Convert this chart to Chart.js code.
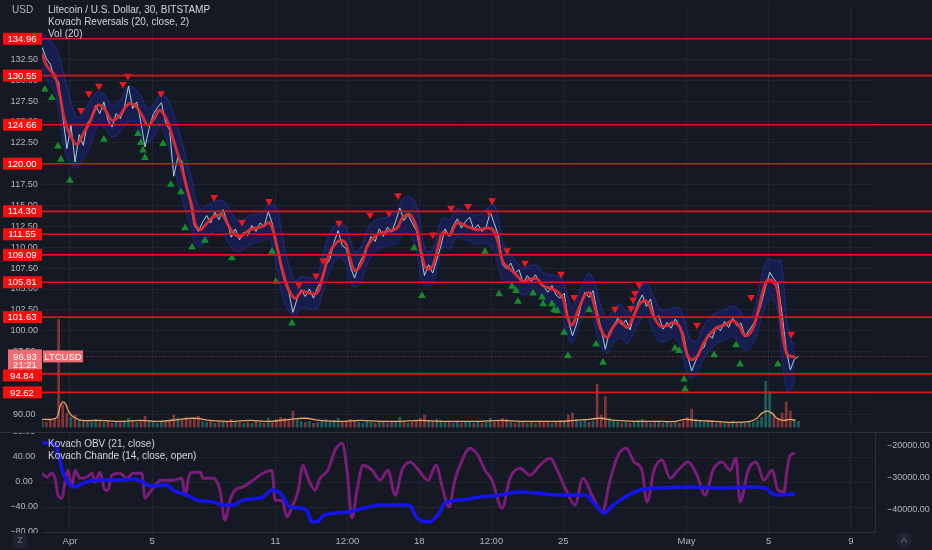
<!DOCTYPE html>
<html>
<head>
<meta charset="utf-8">
<script src="https://cdn.jsdelivr.net/npm/chart.js@4.4.1/dist/chart.umd.min.js"></script>
<style>
  html, body { margin: 0; padding: 0; background: #151924; }
  #wrap { position: relative; width: 932px; height: 550px; overflow: hidden; background: #151924; }
  #main { position: absolute; left: 0; top: 0; }
  #lower { position: absolute; left: 0; top: 432px; }
  .txt { position: absolute; font: 10px "Liberation Sans", Arial, sans-serif; color: #d1d4dc; line-height: 12px; white-space: nowrap; }
  .dim { color: #b2b5be; }
</style>
</head>
<body>
<div id="wrap">
  <canvas id="main" width="932" height="432"></canvas>
  <canvas id="lower" width="932" height="118"></canvas>
  <div class="txt dim" style="left:12px; top:4px;">USD</div>
  <div class="txt" style="left:48px; top:4px;">Litecoin / U.S. Dollar, 30, BITSTAMP<br>Kovach Reversals (20, close, 2)<br>Vol (20)</div>
  <div class="txt" style="left:48px; top:438px;">Kovach OBV (21, close)<br>Kovach Chande (14, close, open)</div>
</div>
<script>
// time axis is in days from 1 Apr 00:00
var dateTicks = [0, 4, 10, 13.5, 17, 20.5, 24, 30, 34, 38];
var dateLabels = ['Apr', '5', '11', '12:00', '18', '12:00', '25', 'May', '5', '9'];
var xMin = -1.36, xMax = 39.17;

var priceTicks = [90, 92.5, 95, 97.5, 100, 102.5, 105, 107.5, 110, 112.5, 115, 117.5, 120, 122.5, 125, 127.5, 130, 132.5, 135];
var levels = [134.96, 130.55, 124.66, 120.00, 114.30, 111.55, 109.09, 105.81, 101.63, 94.84, 92.62];
var lastPrice = 96.93;

// closes, one every 0.2 day
var priceStart = -1.35, priceStep = 0.2;
var price = [133.9,132.6,131.9,130.2,129.8,125.6,121.8,124.6,120.2,123.5,
  122.2,124.8,125.6,127.0,126.0,127.4,125.2,124.4,126.0,125.4,
  126.8,129.3,126.6,127.4,125.0,122.0,124.2,125.9,126.7,127.3,
  125.0,124.0,118.5,120.8,120.3,117.2,115.5,112.6,111.9,113.0,
  113.8,112.9,114.2,113.3,114.5,113.1,111.2,112.2,110.9,111.8,
  111.4,112.6,111.9,112.9,112.5,114.3,112.8,110.2,107.8,105.9,
  104.6,102.2,103.8,104.9,104.1,105.0,103.9,105.2,106.1,107.8,
  108.6,110.6,112.0,110.2,109.8,107.6,106.3,107.9,108.9,110.1,
  111.3,110.7,112.2,111.3,112.4,111.8,113.1,114.7,113.2,113.9,
  112.9,112.0,109.4,106.6,107.9,106.9,108.5,110.2,112.2,111.3,
  112.6,113.4,112.3,113.1,113.6,112.1,112.7,111.9,112.4,114.2,
  112.8,111.4,107.9,107.4,108.1,106.9,107.3,105.7,106.6,105.9,
  106.7,105.8,105.3,104.6,105.4,104.3,103.9,104.5,101.2,99.4,
  100.8,102.9,104.6,104.0,104.8,102.3,100.2,97.8,99.9,100.6,
  101.5,100.7,101.3,100.1,101.9,103.4,104.3,102.9,103.8,101.4,
  101.8,100.2,101.0,100.3,101.4,100.6,99.6,97.0,95.2,96.4,
  97.6,98.0,99.6,99.1,100.5,100.0,101.1,100.4,101.5,100.6,
  100.9,99.3,100.1,100.8,101.7,103.4,105.3,107.0,106.2,105.6,
  102.0,97.8,95.3,96.6,96.93];
var volume = [6,5,7,9,105,22,14,10,12,8,
  7,6,5,8,6,5,7,4,5,6,
  5,9,6,5,7,11,6,5,4,6,
  5,7,12,9,8,10,7,9,11,6,
  5,6,4,5,6,5,8,6,5,4,
  5,4,6,5,4,9,5,8,10,9,
  8,16,7,6,5,6,4,5,7,8,
  6,7,9,5,6,8,7,5,4,6,
  5,4,6,5,4,5,6,10,5,4,
  5,6,9,12,7,6,8,7,6,5,
  4,5,4,5,6,4,5,4,5,9,
  5,6,9,8,5,4,5,6,4,5,
  4,5,6,5,4,6,7,5,12,14,
  8,6,7,5,6,42,12,30,9,6,
  5,4,5,4,6,7,8,5,4,6,
  5,4,5,4,5,4,6,10,18,8,
  6,5,7,5,4,5,4,5,6,4,
  5,4,6,5,7,10,45,35,12,9,
  14,25,16,8,6];
var volMAT = [-1.36,-0.88,-0.63,-0.49,-0.34,-0.19,-0.05,0.19,0.58,1.46,2.43,3.41,4.38,5.35,6.08,6.81,7.79,8.76,9.73,10.71,11.44,12.17,13.14,14.11,15.09,16.06,17.03,18.00,18.98,19.95,20.92,21.90,22.87,23.84,24.57,25.30,25.79,26.52,27.49,28.47,29.44,29.93,30.41,31.39,32.36,33.09,33.43,33.67,33.92,34.16,34.40,34.70,35.04,35.28];
var volMA = [8,8,10,20,25,22,15,10,7,7,6,7,6,8,9,7,6,7,6,8,9,7,6,7,6,6,7,6,6,6,7,6,6,6,7,8,9,7,6,6,6,8,7,6,5,6,9,14,16,14,9,7,8,7];

// Kovach Reversals: centre line and band
var trendT = [-1.36,-1.12,-0.73,-0.49,-0.24,0.10,0.34,0.63,0.97,1.36,
  1.70,2.04,2.43,2.82,3.16,3.50,3.80,4.14,4.38,4.72,
  5.01,5.35,5.69,5.94,6.08,6.33,6.67,6.96,7.40,7.64,
  7.93,8.27,8.76,9.39,9.73,10.07,10.32,10.61,10.95,11.29,
  11.68,12.02,12.31,12.65,13.04,13.38,13.63,13.87,14.21,14.50,
  14.94,15.43,15.91,16.20,16.55,16.89,17.13,17.37,17.66,17.91,
  18.15,18.49,18.83,19.32,19.81,20.29,20.58,20.83,21.07,21.41,
  21.75,22.04,22.38,22.73,23.02,23.36,23.70,23.99,24.18,24.43,
  24.72,25.06,25.30,25.55,25.79,26.13,26.42,26.76,27.10,27.40,
  27.74,28.08,28.37,28.71,29.05,29.34,29.68,29.93,30.17,30.51,
  30.80,31.14,31.48,31.87,32.26,32.60,32.85,33.19,33.43,33.67,
  33.92,34.16,34.40,34.55,34.70,34.89,35.13,35.28];
var trend = [133.2,131.7,130.5,128.2,125.0,123.0,122.3,123.5,125.0,127.0,
  126.5,125.2,125.8,127.1,127.0,125.8,124.6,125.6,126.4,125.2,
  123.0,120.3,117.1,114.8,112.9,112.1,112.9,113.6,113.9,112.9,
  111.8,111.3,112.1,112.5,112.9,110.1,107.4,105.1,103.9,104.7,
  104.5,104.5,106.6,109.4,110.7,110.6,108.6,107.2,108.2,110.3,
  111.5,111.9,112.3,113.6,113.9,112.1,108.9,107.4,107.8,110.1,
  111.8,111.5,112.9,112.5,112.1,112.3,112.1,110.6,108.2,107.4,
  106.6,105.9,106.2,106.2,105.4,105.1,104.7,103.9,101.9,100.7,
  102.4,104.3,104.5,102.7,100.4,99.2,100.4,101.2,100.4,101.6,
  103.3,103.5,101.9,100.6,100.6,101.0,100.4,98.0,96.6,96.9,
  98.4,99.6,100.4,100.7,101.2,100.4,99.4,100.1,101.9,104.3,
  106.0,106.0,105.1,102.4,99.2,97.2,96.9,96.9];
var bandUpper = [135.6,135.0,134.0,132.5,130.0,127.0,125.5,126.0,127.5,128.6,
  128.2,127.0,127.5,129.2,129.0,127.8,126.6,127.4,128.3,127.8,
  126.2,123.5,120.2,118.0,116.0,114.6,115.0,115.4,115.6,115.0,
  113.8,113.2,113.8,114.2,115.3,114.5,111.5,108.2,106.0,106.5,
  106.3,106.5,109.0,111.8,112.8,112.6,111.0,109.4,110.2,112.3,
  113.3,113.6,114.3,115.8,116.0,114.8,111.5,109.5,109.8,112.0,
  113.5,113.3,114.6,114.2,113.8,114.6,115.2,113.6,110.5,109.2,
  108.2,107.5,107.8,107.8,107.0,106.7,106.6,106.0,104.5,102.8,
  104.2,106.2,106.8,105.6,103.2,101.4,102.4,103.2,102.3,103.3,
  105.2,105.6,104.2,102.6,102.4,102.8,102.6,101.0,99.0,98.8,
  100.4,101.6,102.2,102.5,103.0,102.3,101.4,101.8,103.8,106.5,
  108.5,108.5,108.3,108.5,106.5,101.0,98.6,98.4];
var bandLower = [131.5,130.0,128.5,125.5,121.5,119.8,119.5,120.5,122.0,124.5,
  124.3,123.2,123.8,125.0,125.0,123.0,122.6,123.5,124.5,122.8,
  120.0,116.8,113.8,111.8,110.5,110.2,111.0,111.8,111.9,110.8,
  109.8,109.5,110.3,110.8,111.0,107.5,104.2,102.5,101.8,102.8,
  102.6,102.7,104.6,107.2,108.8,108.2,106.0,105.2,106.2,108.2,
  109.7,110.2,110.5,111.6,111.6,109.2,106.0,105.3,105.8,108.0,
  110.0,109.8,111.2,110.8,110.4,110.5,109.8,107.8,106.0,105.6,
  105.0,104.3,104.6,104.6,103.8,103.4,102.9,101.8,99.6,98.6,
  100.4,102.3,102.6,100.6,98.4,97.3,98.5,99.2,98.5,99.6,
  101.2,101.6,100.0,98.7,98.8,99.2,98.3,95.6,94.3,95.0,
  96.5,97.7,98.5,98.9,99.3,98.5,97.6,98.3,99.8,101.8,
  103.5,103.8,102.8,99.5,95.8,92.8,93.2,94.5];

var sellT = [0.54,0.92,1.41,2.58,2.82,4.43,7.01,8.37,9.68,11.14,11.97,12.31,13.09,14.60,15.52,15.96,17.66,18.54,19.37,20.39,20.54,21.27,22.14,23.89,24.53,26.52,27.30,27.40,27.49,27.69,30.51,33.14,35.09];
var sellY = [126.4,128.4,129.3,129.5,130.5,128.4,116.0,113.0,115.5,105.5,106.6,108.4,112.9,113.9,114.1,116.2,111.5,114.7,114.9,114.2,115.6,109.6,108.1,106.8,104.0,102.6,102.7,103.7,104.5,105.5,100.7,104.0,99.6];
var buyT = [-1.22,-0.88,-0.58,-0.44,0.00,1.65,3.31,3.45,3.55,3.65,4.53,4.91,5.40,5.60,5.94,6.57,7.88,9.83,10.02,10.80,16.74,17.13,20.19,20.88,21.51,21.70,21.80,22.53,22.97,23.02,23.45,23.55,23.70,24.04,24.23,25.26,25.60,25.94,29.44,29.64,29.88,29.93,31.34,32.41,32.60,34.45];
var buyY = [128.9,127.9,122.1,120.5,118.0,122.9,123.6,122.5,121.6,120.7,122.4,117.5,116.6,112.3,110.0,110.8,108.7,109.5,105.9,100.9,109.9,104.2,109.5,104.4,105.3,104.8,103.5,104.5,104.0,103.2,103.2,102.5,102.4,99.8,97.0,102.5,98.4,96.2,97.9,97.6,94.2,93.0,97.1,98.3,96.0,96.0];

// lower pane
var oscTicks = [80, 40, 0, -40, -80];
var obvTicks = [-20000, -30000, -40000];
var chandeT = [-1.36,-1.12,-0.88,-0.73,-0.58,-0.39,-0.24,-0.10,0.10,0.24,
  0.49,0.83,1.07,1.22,1.46,1.70,1.85,2.04,2.43,2.77,
  3.07,3.50,3.65,3.89,4.23,4.38,5.01,5.45,5.60,5.84,
  6.33,6.47,6.96,7.30,7.54,7.79,8.03,8.42,8.91,9.39,
  9.83,9.98,10.32,10.56,10.80,11.09,11.34,11.58,11.92,12.17,
  12.55,12.90,13.24,13.48,13.72,13.97,14.26,14.70,15.09,15.47,
  15.82,16.16,16.55,17.03,17.42,17.81,18.15,18.44,18.73,19.08,
  19.46,19.85,20.19,20.54,21.02,21.41,21.90,22.38,22.87,23.36,
  23.75,24.14,24.57,24.96,25.40,25.89,26.28,26.67,27.06,27.45,
  27.83,28.08,28.42,28.81,29.20,29.59,30.07,30.51,30.90,31.29,
  31.73,32.12,32.41,32.60,33.00,33.38,33.77,34.16,34.45,34.74,
  34.89,35.04,35.28];
var chande = [14,8,14,6,-21,-26,0,19,-8,19,
  6,8,14,0,16,-13,-13,11,14,6,
  14,14,-26,-16,-2,3,3,6,-21,14,
  16,6,6,-13,-61,-29,-13,-8,3,14,
  19,-29,-29,-56,-40,-16,27,6,-13,6,
  19,51,62,19,-58,-13,27,19,3,19,
  -21,19,32,16,3,27,-13,-40,3,35,
  54,43,19,3,-42,6,22,11,27,38,
  16,-13,-37,6,-21,-48,3,43,54,32,
  19,-32,19,35,6,19,32,11,-21,19,
  32,19,38,-32,19,32,3,19,-13,-16,
  19,43,46];
var obvT = [-1.36,-0.97,-0.73,-0.58,-0.34,0.00,0.24,0.63,1.46,2.43,3.07,3.55,3.89,4.72,5.01,5.69,6.18,6.96,7.45,7.93,8.42,9.39,9.83,10.22,10.71,11.19,11.53,11.78,12.07,12.36,13.53,14.36,15.13,16.50,16.89,17.47,17.96,18.25,19.03,19.95,20.92,21.90,22.87,23.84,25.06,25.55,25.99,26.37,27.01,27.74,28.71,30.17,31.63,33.09,33.82,34.31,35.28];
var obv = [-19050,-19050,-19300,-22200,-28540,-32340,-32970,-31710,-30760,-30760,-30440,-31390,-32660,-32340,-33920,-35510,-37090,-37720,-38670,-38670,-37090,-36140,-33920,-34870,-39300,-39600,-40500,-44050,-43800,-41840,-40890,-39500,-38670,-38670,-42780,-44050,-41200,-38040,-37090,-36140,-35510,-34560,-35000,-35510,-35510,-38500,-41200,-39000,-36140,-33920,-33290,-32970,-33290,-32970,-33290,-35510,-35200];

var bg = '#151924';
var gridColor = 'rgba(42,46,57,0.55)';
var tickColor = '#b2b5be';
var fontFamily = '"Liberation Sans", Arial, sans-serif';

function xy(xs, ys) {
    return xs.map(function (x, i) { return { x: x, y: ys[i] }; });
}
function fmt(v) {
    return (v < 0 ? '\u2212' : '') + Math.abs(v).toFixed(2);
}
function dateTickSetter(scale) {
    scale.ticks = dateTicks.map(function (v) { return { value: v }; });
}

var priceXY = price.map(function (p, i) { return { x: priceStart + i * priceStep, y: p }; });
var volXY = volume.map(function (v, i) { return { x: priceStart + i * priceStep, y: v }; });
var volColors = price.map(function (p, i) {
    return (i > 0 && p < price[i - 1]) ? 'rgba(239,83,80,0.5)' : 'rgba(38,166,154,0.5)';
});

var priceMarks = {
    id: 'priceMarks',
    afterDatasetsDraw: function (chart) {
        var ctx = chart.ctx, ys = chart.scales.y, a = chart.chartArea;
        ctx.save();
        var lp = Math.round(ys.getPixelForValue(lastPrice)) + 0.5;
        ctx.setLineDash([1, 2]);
        ctx.strokeStyle = 'rgba(242,54,69,0.55)';
        ctx.lineWidth = 1;
        ctx.beginPath(); ctx.moveTo(a.left, lp); ctx.lineTo(chart.width, lp); ctx.stroke();
        ctx.setLineDash([]);
        ctx.strokeStyle = '#d8161b';
        ctx.lineWidth = 1.6;
        levels.forEach(function (lv) {
            var py = ys.getPixelForValue(lv);
            ctx.beginPath(); ctx.moveTo(a.left, py); ctx.lineTo(chart.width, py); ctx.stroke();
        });
        ctx.restore();
    },
    afterDraw: function (chart) {
        var ctx = chart.ctx, ys = chart.scales.y;
        ctx.save();
        ctx.font = '9.5px ' + fontFamily;
        ctx.textAlign = 'center';
        ctx.textBaseline = 'middle';
        var lp = ys.getPixelForValue(lastPrice);
        // boxes, pushed down when they would overlap the last price box
        var lastBottom = -100;
        levels.forEach(function (lv) {
            var top = ys.getPixelForValue(lv) - 6;
            if (lv < lastPrice) top = Math.max(top, lp + 13);
            top = Math.max(top, lastBottom);
            ctx.fillStyle = '#f50f0f';
            ctx.fillRect(3, top, 39, 12);
            ctx.fillStyle = '#ffffff';
            ctx.fillText(lv.toFixed(2), 22, top + 6.5);
            lastBottom = top + 12;
        });
        ctx.fillStyle = '#ec6d72';
        ctx.fillRect(8, lp - 7, 34, 20);
        ctx.fillRect(43, lp - 6, 40, 12);
        ctx.fillStyle = '#ffffff';
        ctx.fillText(lastPrice.toFixed(2), 25, lp + 0.5);
        ctx.fillText('21:21', 25, lp + 9);
        ctx.fillText('LTCUSD', 63, lp + 0.5);
        ctx.restore();
    }
};

var paneButtons = {
    id: 'paneButtons',
    afterDraw: function (chart) {
        var ctx = chart.ctx, a = chart.chartArea;
        ctx.save();
        ctx.fillStyle = '#2a2e39';
        ctx.fillRect(0, 0, chart.width, 1);
        ctx.fillStyle = bg;
        ctx.fillRect(0, a.bottom + 1, a.left - 1, chart.height - a.bottom);
        ctx.font = '9px ' + fontFamily;
        ctx.textAlign = 'center';
        ctx.textBaseline = 'middle';
        [[20, 'Z'], [904, 'A']].forEach(function (b) {
            ctx.fillStyle = '#1f2330';
            ctx.beginPath(); ctx.arc(b[0], a.bottom + 8.5, 8, 0, Math.PI * 2); ctx.fill();
            ctx.fillStyle = '#6f7380';
            ctx.fillText(b[1], b[0], a.bottom + 9);
        });
        ctx.restore();
    }
};

document.addEventListener('DOMContentLoaded', function () {
    var ctx = document.getElementById('main').getContext('2d');
    var mainChart = new Chart(ctx, {
        type: 'line',
        data: {
            datasets: [{
                label: 'Band upper',
                data: xy(trendT, bandUpper),
                borderColor: 'rgba(38,58,190,0.4)',
                borderWidth: 1.5,
                backgroundColor: 'rgba(26,36,120,0.5)',
                fill: '+1',
                tension: 0.4,
                pointRadius: 0,
                order: 7
            }, {
                label: 'Band lower',
                data: xy(trendT, bandLower),
                borderColor: 'rgba(38,58,190,0.4)',
                borderWidth: 1.5,
                fill: false,
                tension: 0.4,
                pointRadius: 0,
                order: 7
            }, {
                type: 'bar',
                label: 'Volume',
                data: volXY,
                yAxisID: 'yVol',
                backgroundColor: volColors,
                barThickness: 2,
                order: 6
            }, {
                label: 'Vol MA',
                data: xy(volMAT, volMA),
                yAxisID: 'yVol',
                borderColor: '#e9a45d',
                borderWidth: 1.3,
                tension: 0.4,
                pointRadius: 0,
                order: 5
            }, {
                label: 'LTCUSD',
                data: priceXY,
                borderColor: 'rgba(182,224,222,0.9)',
                borderWidth: 1,
                tension: 0,
                pointRadius: 0,
                order: 4
            }, {
                label: 'Kovach Reversals',
                data: xy(trendT, trend),
                borderColor: 'rgba(228,44,50,0.9)',
                borderWidth: 3,
                tension: 0.4,
                pointRadius: 0,
                order: 3
            }, {
                label: 'Sell',
                data: xy(sellT, sellY),
                showLine: false,
                pointStyle: 'triangle',
                rotation: 180,
                pointRadius: 4.5,
                backgroundColor: '#e8191f',
                borderColor: '#e8191f',
                borderWidth: 0,
                order: 1
            }, {
                label: 'Buy',
                data: xy(buyT, buyY),
                showLine: false,
                pointStyle: 'triangle',
                pointRadius: 4.5,
                backgroundColor: '#178a2e',
                borderColor: '#178a2e',
                borderWidth: 0,
                order: 1
            }]
        },
        options: {
            responsive: false,
            animation: false,
            devicePixelRatio: 1,
            layout: { padding: { left: 0, right: 57, top: 0, bottom: 0 } },
            plugins: { legend: { display: false }, tooltip: { enabled: false } },
            scales: {
                x: {
                    type: 'linear',
                    min: xMin,
                    max: xMax,
                    offset: false,
                    afterBuildTicks: dateTickSetter,
                    ticks: { display: false },
                    grid: { color: gridColor, drawTicks: false, offset: false },
                    border: { display: false },
                    afterFit: function (s) { s.height = 0; s.paddingLeft = 0; s.paddingRight = 0; }
                },
                y: {
                    position: 'left',
                    min: 88.418,
                    max: 139.063,
                    afterBuildTicks: function (s) { s.ticks = priceTicks.map(function (v) { return { value: v }; }); },
                    ticks: {
                        color: tickColor,
                        font: { size: 9, family: fontFamily },
                        crossAlign: 'center',
                        padding: 4,
                        callback: function (v) { return v.toFixed(2); }
                    },
                    grid: { color: gridColor, drawTicks: false },
                    border: { display: false },
                    afterFit: function (s) { s.width = 42; s.paddingTop = 0; s.paddingBottom = 0; }
                },
                yVol: { display: false, min: 0, max: 412 }
            }
        },
        plugins: [priceMarks]
    });

    var lowerCtx = document.getElementById('lower').getContext('2d');
    var lowerChart = new Chart(lowerCtx, {
        type: 'line',
        data: {
            datasets: [{
                label: 'Kovach OBV',
                data: xy(obvT, obv),
                yAxisID: 'yObv',
                borderColor: '#1414f0',
                borderWidth: 3.5,
                cubicInterpolationMode: 'monotone',
                pointRadius: 0,
                order: 1
            }, {
                label: 'Kovach Chande',
                data: xy(chandeT, chande),
                yAxisID: 'y',
                borderColor: 'rgba(128,28,128,0.95)',
                borderWidth: 3,
                cubicInterpolationMode: 'monotone',
                pointRadius: 0,
                order: 2
            }]
        },
        options: {
            responsive: false,
            animation: false,
            devicePixelRatio: 1,
            layout: { padding: 0 },
            plugins: { legend: { display: false }, tooltip: { enabled: false } },
            scales: {
                x: {
                    type: 'linear',
                    min: xMin,
                    max: xMax,
                    afterBuildTicks: dateTickSetter,
                    ticks: {
                        color: tickColor,
                        font: { size: 9.5, family: fontFamily },
                        maxRotation: 0,
                        autoSkip: false,
                        padding: 4,
                        callback: function (v) { var i = dateTicks.indexOf(v); return i < 0 ? '' : dateLabels[i]; }
                    },
                    grid: { color: gridColor, drawTicks: false },
                    border: { color: '#2a2e39' },
                    afterFit: function (s) { s.height = 18; s.paddingLeft = 0; s.paddingRight = 0; }
                },
                y: {
                    position: 'left',
                    min: -80,
                    max: 80,
                    afterBuildTicks: function (s) { s.ticks = oscTicks.map(function (v) { return { value: v }; }); },
                    ticks: {
                        color: tickColor,
                        font: { size: 9, family: fontFamily },
                        crossAlign: 'center',
                        padding: 4,
                        callback: fmt
                    },
                    grid: { color: gridColor, drawTicks: false },
                    border: { display: false },
                    afterFit: function (s) { s.width = 42; s.paddingTop = 0; s.paddingBottom = 0; }
                },
                yObv: {
                    position: 'right',
                    min: -47180,
                    max: -15570,
                    afterBuildTicks: function (s) { s.ticks = obvTicks.map(function (v) { return { value: v }; }); },
                    ticks: {
                        color: tickColor,
                        font: { size: 9, family: fontFamily },
                        crossAlign: 'center',
                        padding: 4,
                        callback: fmt
                    },
                    grid: { display: false },
                    border: { color: '#2a2e39' },
                    afterFit: function (s) { s.width = 57; s.paddingTop = 0; s.paddingBottom = 0; }
                }
            }
        },
        plugins: [paneButtons]
    });
});
</script>
</body>
</html>
